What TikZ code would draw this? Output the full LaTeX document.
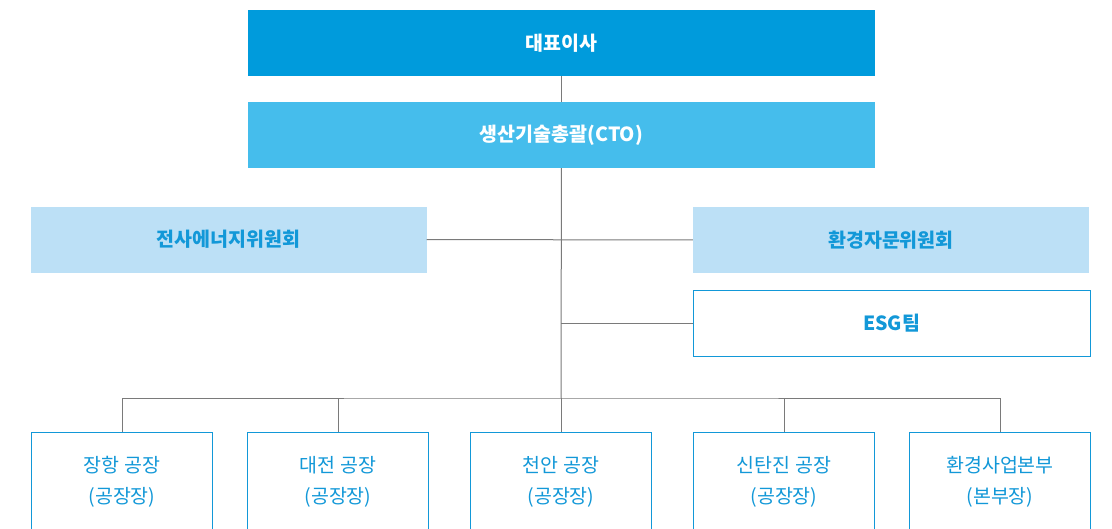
\documentclass[tikz,border=0pt]{standalone}
\usepackage{fontspec}
\setmainfont{Noto Sans CJK KR}
\definecolor{ceo}{HTML}{009BDC}
\definecolor{cto}{HTML}{45BDEC}
\definecolor{cmte}{HTML}{BCE0F6}
\definecolor{ink}{HTML}{1298D8}
\definecolor{rule}{HTML}{7A7A7A}
\tikzset{
  head/.style={minimum width=627pt, minimum height=66pt, inner sep=0pt, text=white, font=\fontsize{19.5}{22}\selectfont\bfseries},
  cmte/.style={fill=cmte, minimum width=396pt, minimum height=66pt, inner sep=0pt, text=ink, font=\fontsize{19.5}{22}\selectfont\bfseries},
  plant/.style={draw=ink, fill=white, line width=1pt, minimum width=181pt, minimum height=99pt, inner sep=0pt, text=ink, align=center, font=\fontsize{19.5}{31}\selectfont},
  link/.style={draw=rule, line width=1pt}
}
\begin{document}
\begin{tikzpicture}[x=1pt,y=-1pt]
  \useasboundingbox[fill=white] (0,0) rectangle (1112,528);
  \node[head, fill=ceo] (ceo) at (561.5,43) {대표이사};
  \node[head, fill=cto] (cto) at (561.5,135) {생산기술총괄(CTO)};
  \node[cmte] (energy) at (228.5,239.5) {전사에너지위원회};
  \node[cmte] (env) at (891,240) {환경자문위원회};
  \node[plant, minimum width=397pt, minimum height=66pt, font=\fontsize{19.5}{22}\selectfont\bfseries] (esg) at (891.5,323) {ESG팀};

  \node[plant] (janghang) at (122,481.5) {장항 공장\\(공장장)};
  \node[plant] (daejeon) at (338,481.5) {대전 공장\\(공장장)};
  \node[plant] (cheonan) at (561,481.5) {천안 공장\\(공장장)};
  \node[plant] (sintanjin) at (784,481.5) {신탄진 공장\\(공장장)};
  \node[plant] (envbiz) at (1000,481.5) {환경사업본부\\(본부장)};

  \coordinate (bus) at (561,398);
  \draw[link] (ceo) -- (cto);
  \draw[link] (cto) -- (bus);
  \draw[link] (energy) -- (env);
  \draw[link] (esg.west) -- (esg.west -| bus);
  \draw[link] (janghang.north) |- (bus) -| (envbiz.north);
  \draw[link] (daejeon.north) -- (daejeon.north |- bus);
  \draw[link] (cheonan.north) -- (bus);
  \draw[link] (sintanjin.north) -- (sintanjin.north |- bus);
\end{tikzpicture}
\end{document}
